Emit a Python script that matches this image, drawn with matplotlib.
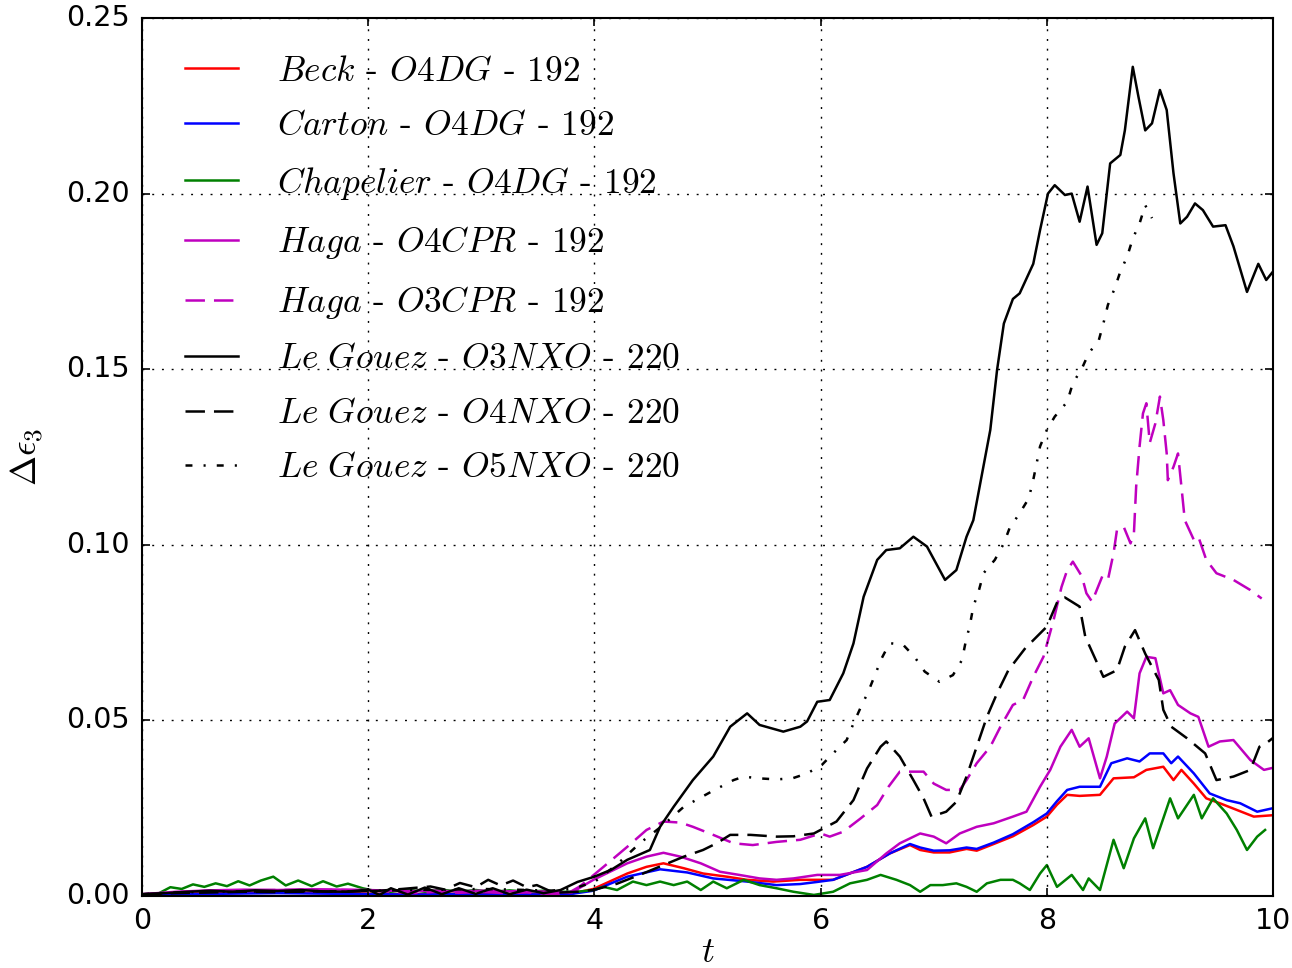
import matplotlib
matplotlib.use('Agg')
import matplotlib.pyplot as plt
import numpy as np

plt.style.use('classic')
plt.rcParams['mathtext.fontset'] = 'cm'
plt.rcParams['lines.scale_dashes'] = False
plt.rcParams['axes.formatter.use_mathtext'] = False

# ---- data ----
t_beck = [0, 0.3, 0.6, 0.9, 1.2, 1.5, 1.8, 2.1, 2.4, 2.7, 3.0, 3.3, 3.6, 3.8, 3.99, 4.29, 4.46, 4.61, 4.79, 4.96,
          5.17, 5.35, 5.58, 5.82, 6.11, 6.41, 6.61, 6.79, 6.88, 7.0, 7.14, 7.29, 7.38, 7.53, 7.70, 7.88, 8.0, 8.09,
          8.18, 8.29, 8.47, 8.59, 8.77, 8.88, 9.03, 9.12, 9.19, 9.30, 9.41, 9.53, 9.68, 9.83, 10.0]
e_beck = [0.0003, 0.0006, 0.0008, 0.0009, 0.001, 0.0009, 0.0008, 0.0006, 0.0005, 0.0006, 0.0005, 0.0006, 0.0005,
          0.0007, 0.002, 0.0064, 0.0083, 0.0093, 0.0079, 0.0064, 0.0055, 0.0046, 0.0041, 0.0046, 0.0046, 0.0083,
          0.0121, 0.0145, 0.0131, 0.0124, 0.0124, 0.0134, 0.0129, 0.0148, 0.017, 0.0202, 0.0226, 0.026, 0.0288,
          0.0285, 0.0288, 0.0335, 0.0338, 0.0359, 0.0368, 0.033, 0.0359, 0.032, 0.0278, 0.0264, 0.0245, 0.0226, 0.023]

t_carton = [0, 0.3, 0.6, 0.9, 1.2, 1.5, 1.8, 2.1, 2.4, 2.7, 3.0, 3.3, 3.6, 3.8, 3.99, 4.29, 4.58, 4.82, 5.05, 5.35,
            5.61, 5.82, 5.97, 6.11, 6.41, 6.61, 6.79, 6.88, 7.0, 7.14, 7.29, 7.38, 7.53, 7.70, 7.88, 8.0, 8.09, 8.18,
            8.29, 8.47, 8.57, 8.71, 8.82, 8.91, 9.03, 9.10, 9.16, 9.30, 9.44, 9.59, 9.71, 9.86, 10.0]
e_carton = [0.0002, 0.0005, 0.0006, 0.0007, 0.0008, 0.0007, 0.0006, 0.0005, 0.0004, 0.0005, 0.0004, 0.0005, 0.0004,
            0.0006, 0.0015, 0.0055, 0.0076, 0.0067, 0.005, 0.0041, 0.0031, 0.0034, 0.0040, 0.0046, 0.0083, 0.0121,
            0.0148, 0.0138, 0.0129, 0.013, 0.0138, 0.0134, 0.0152, 0.0176, 0.021, 0.0235, 0.027, 0.0302, 0.0311,
            0.0311, 0.0378, 0.0392, 0.0383, 0.0406, 0.0406, 0.0378, 0.0397, 0.0349, 0.0292, 0.0273, 0.0264, 0.024, 0.025]

t_chap = [0, 0.15, 0.25, 0.35, 0.45, 0.55, 0.65, 0.75, 0.85, 0.95, 1.05, 1.16, 1.27, 1.38, 1.5, 1.6, 1.72, 1.82, 1.95,
          2.05, 2.2, 2.35, 2.5, 2.65, 2.8, 2.95, 3.1, 3.25, 3.4, 3.55, 3.7, 3.85, 3.99, 4.08, 4.2, 4.34, 4.46, 4.58,
          4.70, 4.82, 4.94, 5.05, 5.17, 5.32, 5.46, 5.61, 5.76, 5.94, 6.11, 6.26, 6.41, 6.53, 6.67, 6.79, 6.88, 6.97,
          7.08, 7.20, 7.29, 7.38, 7.47, 7.59, 7.70, 7.76, 7.85, 7.94, 8.0, 8.09, 8.22, 8.32, 8.37, 8.47, 8.59, 8.68,
          8.77, 8.87, 8.94, 9.03, 9.09, 9.16, 9.30, 9.37, 9.47, 9.59, 9.68, 9.77, 9.86, 9.93]
e_chap = [0.0003, 0.0008, 0.0025, 0.002, 0.0033, 0.0026, 0.0036, 0.0028, 0.0042, 0.003, 0.0044, 0.0055, 0.003, 0.0044,
          0.0028, 0.0042, 0.0027, 0.0035, 0.0022, 0.0015, 0.0012, 0.0018, 0.0012, 0.0018, 0.0012, 0.0017, 0.0012,
          0.0016, 0.0012, 0.0015, 0.0012, 0.0012, 0.0017, 0.0026, 0.0017, 0.0041, 0.0031, 0.0041, 0.0031, 0.0041,
          0.0017, 0.0041, 0.0022, 0.0046, 0.0031, 0.0022, 0.0012, 0.0003, 0.0012, 0.0036, 0.0046, 0.006, 0.0046,
          0.0031, 0.0012, 0.0031, 0.0031, 0.0036, 0.0026, 0.0012, 0.0036, 0.0046, 0.0046, 0.0036, 0.0017, 0.0064,
          0.0088, 0.0026, 0.006, 0.0017, 0.005, 0.0017, 0.016, 0.0079, 0.0164, 0.0221, 0.0136, 0.0221, 0.0278,
          0.0221, 0.0288, 0.0221, 0.0278, 0.0235, 0.0188, 0.0131, 0.0169, 0.0188]

t_haga4 = [0, 0.3, 0.6, 0.9, 1.2, 1.5, 1.8, 2.0, 2.2, 2.4, 2.6, 2.8, 3.0, 3.2, 3.4, 3.6, 3.8, 3.99, 4.29, 4.46, 4.61,
           4.76, 4.94, 5.11, 5.28, 5.46, 5.61, 5.76, 5.97, 6.17, 6.41, 6.58, 6.70, 6.88, 7.0, 7.11, 7.23, 7.38, 7.53,
           7.70, 7.82, 7.94, 8.03, 8.12, 8.22, 8.29, 8.37, 8.47, 8.53, 8.60, 8.71, 8.77, 8.82, 8.88, 8.96, 9.03, 9.09,
           9.16, 9.27, 9.34, 9.43, 9.53, 9.65, 9.80, 9.92, 10.0]
e_haga4 = [0.0005, 0.0012, 0.0016, 0.0018, 0.0017, 0.0019, 0.0018, 0.0017, 0.0015, 0.0014, 0.0015, 0.0013, 0.0015,
           0.0013, 0.0014, 0.0012, 0.001, 0.0046, 0.0093, 0.0112, 0.0123, 0.0112, 0.0093, 0.0069, 0.006, 0.005,
           0.0046, 0.005, 0.006, 0.006, 0.0074, 0.0121, 0.015, 0.0178, 0.0169, 0.015, 0.0178, 0.0197, 0.0207, 0.0226,
           0.024, 0.0311, 0.0359, 0.0425, 0.0473, 0.0425, 0.0449, 0.0335, 0.0397, 0.0491, 0.0525, 0.0506, 0.0634,
           0.0681, 0.0677, 0.0577, 0.0586, 0.0544, 0.052, 0.051, 0.0425, 0.044, 0.0444, 0.0387, 0.0359, 0.0365]

t_haga3 = [0, 0.3, 0.6, 0.9, 1.2, 1.5, 1.8, 2.0, 2.2, 2.4, 2.6, 2.8, 3.0, 3.2, 3.4, 3.6, 3.75, 3.87, 4.08, 4.29, 4.46,
           4.61, 4.76, 4.87, 5.05, 5.23, 5.40, 5.61, 5.82, 6.0, 6.08, 6.20, 6.35, 6.50, 6.60, 6.70, 6.82, 6.91, 7.0,
           7.11, 7.23, 7.29, 7.38, 7.50, 7.59, 7.70, 7.79, 7.88, 7.97, 8.06, 8.13, 8.18, 8.23, 8.31, 8.35, 8.40, 8.43,
           8.49, 8.54, 8.59, 8.62, 8.68, 8.74, 8.77, 8.79, 8.82, 8.85, 8.88, 8.91, 8.96, 9.0, 9.03, 9.06, 9.07, 9.12,
           9.16, 9.19, 9.22, 9.30, 9.34, 9.41, 9.50, 9.65, 9.80, 9.90]
e_haga3 = [0.0005, 0.001, 0.0015, 0.0016, 0.0017, 0.0018, 0.0017, 0.0016, 0.0012, 0.0008, 0.0012, 0.0009, 0.0012,
           0.0008, 0.001, 0.0006, 0.0005, 0.0027, 0.0083, 0.014, 0.0188, 0.0212, 0.0209, 0.0197, 0.0174, 0.015,
           0.0145, 0.0154, 0.0160, 0.0178, 0.0169, 0.0183, 0.022, 0.0259, 0.0311, 0.0354, 0.0354, 0.0354, 0.032,
           0.0302, 0.0302, 0.033, 0.0378, 0.0425, 0.0482, 0.0544, 0.0558, 0.0624, 0.0681, 0.0786, 0.088, 0.0928,
           0.0952, 0.091, 0.0862, 0.0838, 0.0862, 0.091, 0.09, 0.0976, 0.1042, 0.1051, 0.1004, 0.1032, 0.1166, 0.128,
           0.1374, 0.1403, 0.129, 0.1346, 0.1422, 0.1355, 0.126, 0.1184, 0.1222, 0.126, 0.1166, 0.107, 0.1014, 0.1023,
           0.0957, 0.0919, 0.09, 0.0871, 0.0847]

t_lg3 = [0, 0.2, 0.4, 0.6, 0.8, 1.0, 1.2, 1.4, 1.6, 1.8, 2.0, 2.1, 2.2, 2.35, 2.5, 2.65, 2.8, 2.95, 3.1, 3.25, 3.4,
         3.55, 3.7, 3.85, 4.0, 4.15, 4.29, 4.49, 4.58, 4.70, 4.87, 5.05, 5.20, 5.35, 5.46, 5.67, 5.82, 5.88, 5.97,
         6.08, 6.20, 6.29, 6.38, 6.50, 6.58, 6.70, 6.82, 6.94, 7.10, 7.20, 7.29, 7.35, 7.50, 7.56, 7.62, 7.70, 7.76,
         7.88, 7.94, 8.01, 8.07, 8.16, 8.22, 8.29, 8.36, 8.44, 8.49, 8.56, 8.65, 8.69, 8.76, 8.81, 8.87, 8.93, 9.00,
         9.06, 9.12, 9.18, 9.24, 9.31, 9.38, 9.47, 9.58, 9.65, 9.77, 9.87, 9.94, 10.0]
e_lg3 = [0.0005, 0.0008, 0.0012, 0.0015, 0.0012, 0.0016, 0.0014, 0.0017, 0.0013, 0.0012, 0.0018, 0.0003, 0.0022,
         0.0004, 0.0024, 0.0005, 0.0022, 0.0006, 0.0022, 0.0005, 0.0018, 0.0008, 0.0017, 0.004, 0.0055, 0.0075,
         0.0103, 0.0131, 0.0197, 0.0254, 0.033, 0.0397, 0.0482, 0.052, 0.0487, 0.0468, 0.0482, 0.0497, 0.0553,
         0.0558, 0.0634, 0.0719, 0.0852, 0.0957, 0.0985, 0.099, 0.1023, 0.0995, 0.090, 0.0928, 0.1023, 0.107, 0.1327,
         0.1498, 0.163, 0.170, 0.1716, 0.180, 0.1896, 0.200, 0.2024, 0.1996, 0.200, 0.192, 0.202, 0.1854, 0.1887,
         0.2086, 0.211, 0.218, 0.2361, 0.2276, 0.218, 0.220, 0.2295, 0.2238, 0.2058, 0.1915, 0.1934, 0.1972, 0.1953,
         0.1906, 0.191, 0.185, 0.172, 0.180, 0.1754, 0.1778]

t_lg4 = [0, 0.3, 0.6, 0.9, 1.2, 1.5, 1.8, 2.1, 2.3, 2.55, 2.68, 2.81, 2.95, 3.06, 3.17, 3.28, 3.4, 3.49, 3.6, 3.7, 3.85,
         3.99, 4.2, 4.43, 4.61, 4.79, 4.96, 5.08, 5.20, 5.38, 5.61, 5.76, 5.94, 6.14, 6.29, 6.41, 6.53, 6.58, 6.70,
         6.82, 6.91, 6.98, 7.11, 7.20, 7.29, 7.38, 7.47, 7.56, 7.66, 7.82, 7.87, 8.0, 8.10, 8.16, 8.29, 8.34, 8.43,
         8.50, 8.62, 8.69, 8.78, 8.87, 8.99, 9.03, 9.10, 9.24, 9.40, 9.50, 9.65, 9.80, 9.88, 9.94, 10.0]
e_lg4 = [0.0005, 0.0008, 0.001, 0.0012, 0.0011, 0.0013, 0.0012, 0.0015, 0.002, 0.0027, 0.0018, 0.0037, 0.0025, 0.0046,
         0.003, 0.0044, 0.0025, 0.0031, 0.0015, 0.001, 0.0012, 0.0017, 0.0035, 0.0064, 0.0088, 0.0112, 0.0131, 0.015,
         0.0174, 0.0174, 0.0169, 0.017, 0.0178, 0.0212, 0.0273, 0.0363, 0.0425, 0.044, 0.0397, 0.033, 0.0278, 0.0226,
         0.024, 0.0268, 0.034, 0.0425, 0.051, 0.0577, 0.0643, 0.071, 0.0725, 0.0767, 0.0843, 0.085, 0.0824, 0.0738,
         0.0674, 0.0624, 0.0643, 0.071, 0.0757, 0.069, 0.0615, 0.053, 0.0482, 0.0449, 0.0406, 0.033, 0.034, 0.0359,
         0.0425, 0.0435, 0.045]

t_lg5 = [0, 0.3, 0.6, 0.9, 1.2, 1.5, 1.8, 2.1, 2.4, 2.7, 3.0, 3.3, 3.6, 3.8, 4.0, 4.2, 4.4, 4.6, 4.79, 5.05, 5.23,
         5.32, 5.45, 5.61, 5.75, 5.88, 6.01, 6.11, 6.23, 6.29, 6.35, 6.42, 6.48, 6.54, 6.61, 6.73, 6.83, 6.92, 7.05,
         7.17, 7.25, 7.28, 7.32, 7.35, 7.40, 7.44, 7.54, 7.62, 7.67, 7.76, 7.84, 7.88, 7.91, 7.94, 8.0, 8.07, 8.18,
         8.23, 8.31, 8.37, 8.46, 8.50, 8.54, 8.60, 8.65, 8.71, 8.76, 8.82, 8.87, 8.93]
e_lg5 = [0.0005, 0.001, 0.0012, 0.0013, 0.0012, 0.0014, 0.0013, 0.0015, 0.0017, 0.0018, 0.002, 0.0018, 0.0015, 0.002,
         0.004, 0.009, 0.015, 0.020, 0.0254, 0.030, 0.033, 0.034, 0.0335, 0.0332, 0.0335, 0.0349, 0.0373, 0.0406,
         0.0444, 0.0491, 0.0534, 0.0581, 0.0629, 0.0677, 0.072, 0.0715, 0.0681, 0.0639, 0.061, 0.0629, 0.0672, 0.072,
         0.0772, 0.0824, 0.0871, 0.0919, 0.0957, 0.1004, 0.1047, 0.109, 0.1132, 0.1185, 0.1232, 0.128, 0.1327,
         0.1365, 0.1407, 0.146, 0.1502, 0.1545, 0.1583, 0.163, 0.1683, 0.173, 0.1778, 0.182, 0.1872, 0.1915, 0.1967,
         0.193]

labels = [r'$\mathit{Beck}$ - $\mathit{O4DG}$ - 192',
          r'$\mathit{Carton}$ - $\mathit{O4DG}$ - 192',
          r'$\mathit{Chapelier}$ - $\mathit{O4DG}$ - 192',
          r'$\mathit{Haga}$ - $\mathit{O4CPR}$ - 192',
          r'$\mathit{Haga}$ - $\mathit{O3CPR}$ - 192',
          r'$\mathit{Le\ Gouez}$ - $\mathit{O3NXO}$ - 220',
          r'$\mathit{Le\ Gouez}$ - $\mathit{O4NXO}$ - 220',
          r'$\mathit{Le\ Gouez}$ - $\mathit{O5NXO}$ - 220']

dashed = (0, (14, 6.5))
dashdot = (0, (5, 8, 1.5, 8))

fig = plt.figure(figsize=(12.92, 9.68), dpi=100, facecolor='white')
ax = fig.add_axes([0.110, 0.0744, 0.8753, 0.907])

lw = 1.8
ax.plot(t_beck, e_beck, color='r', lw=lw, label=labels[0])
ax.plot(t_carton, e_carton, color='b', lw=lw, label=labels[1])
ax.plot(t_chap, e_chap, color='g', lw=lw, label=labels[2])
ax.plot(t_haga4, e_haga4, color='m', lw=lw, label=labels[3])
ax.plot(t_haga3, e_haga3, color='m', lw=lw, ls=dashed, label=labels[4])
ax.plot(t_lg3, e_lg3, color='k', lw=lw, label=labels[5])
ax.plot(t_lg4, e_lg4, color='k', lw=lw, ls=dashed, label=labels[6])
ax.plot(t_lg5, e_lg5, color='k', lw=lw, ls=dashdot, label=labels[7])

ax.set_xlim(0, 10)
ax.set_ylim(0, 0.25)
ax.set_xticks([0, 2, 4, 6, 8, 10])
ax.set_yticks([0.0, 0.05, 0.10, 0.15, 0.20, 0.25])
ax.set_yticklabels(['0.00', '0.05', '0.10', '0.15', '0.20', '0.25'])
ax.tick_params(labelsize=20.5, width=1.2, length=6)
ax.tick_params(axis='y', pad=9)
ax.tick_params(axis='x', pad=8)
ax.grid(True, color='k', linestyle=(0, (1.4, 5.6)), linewidth=1.0)
for s in ax.spines.values():
    s.set_linewidth(1.5)

ax.set_xlabel(r'$t$', fontsize=26, labelpad=0)
ax.set_ylabel(r'$\Delta\epsilon_3$', fontsize=26, labelpad=14)

leg = ax.legend(loc='upper left', bbox_to_anchor=(0.0288, 0.957), frameon=False,
                prop={'family': 'cmr10', 'size': 25.5}, handlelength=2.1, handletextpad=0.78,
                labelspacing=0.64, borderpad=0, borderaxespad=0)

fig.savefig('out.png', dpi=100, facecolor='white')
